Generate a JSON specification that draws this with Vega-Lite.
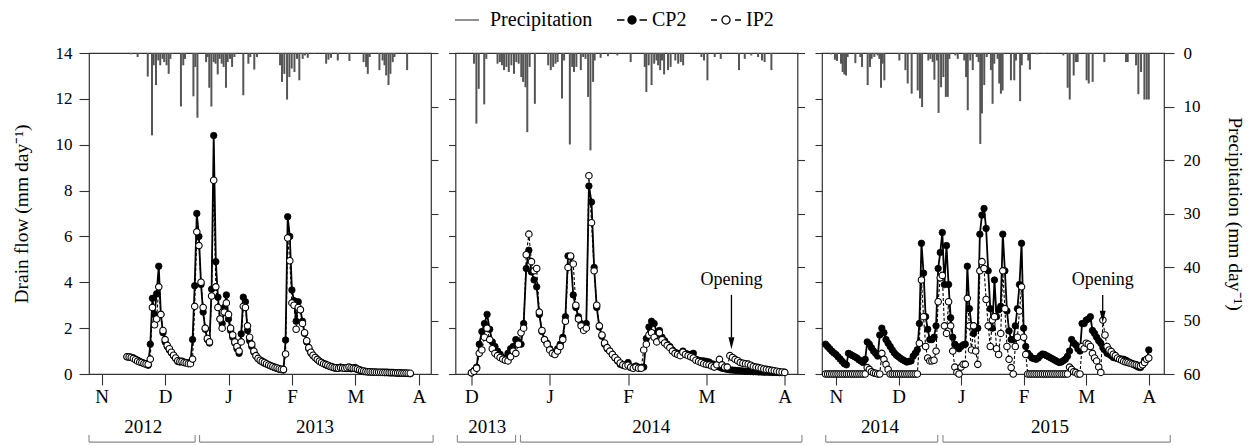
{
  "$schema": "https://vega.github.io/schema/vega-lite/v6.json",
  "padding": {"left": 10, "top": 4, "right": 0, "bottom": 0},
  "config": {
    "font": "Liberation Serif",
    "view": {"stroke": "#333", "strokeWidth": 1.2},
    "axis": {"labelColor": "black", "tickColor": "#333", "titleColor": "black", "titleFontWeight": "normal", "labelFont": "Liberation Serif", "titleFont": "Liberation Serif", "grid": false, "tickWidth": 1.1, "domain": false, "labelFlush": false, "labelOverlap": false}
  },
  "datasets": {
    "f1": [
      {"d":12,"c":0.75,"i":0.75},{"d":13,"c":0.74,"i":0.74},{"d":14,"c":0.73,"i":0.72},{"d":15,"c":0.70,"i":0.68},{"d":16,"c":0.65,"i":0.62},{"d":17,"c":0.60,"i":0.56},{"d":18,"c":0.55,"i":0.52},{"d":19,"c":0.50,"i":0.50},{"d":20,"c":0.47,"i":0.46},{"d":21,"c":0.42,"i":0.44},{"d":22,"c":0.38,"i":0.42},{"d":23,"c":1.3,"i":0.65},{"d":24,"c":3.3,"i":2.9},{"d":25,"c":2.6,"i":2.15},{"d":26,"c":3.5,"i":2.4},{"d":27,"c":4.7,"i":3.8},{"d":28,"c":2.6,"i":2.6},{"d":29,"c":1.8,"i":1.9},{"d":30,"c":1.4,"i":1.5},{"d":31,"c":1.2,"i":1.25},{"d":32,"c":1.05,"i":1.1},{"d":33,"c":0.92,"i":0.95},{"d":34,"c":0.8,"i":0.82},{"d":35,"c":0.68,"i":0.7},{"d":36,"c":0.55,"i":0.58},{"d":37,"c":0.52,"i":0.55},{"d":38,"c":0.55,"i":0.55},{"d":39,"c":0.52,"i":0.5},{"d":40,"c":0.5,"i":0.48},{"d":41,"c":0.47,"i":0.45},{"d":42,"c":0.5,"i":0.45},{"d":43,"c":1.5,"i":0.65},{"d":44,"c":3.85,"i":2.95},{"d":45,"c":7.0,"i":6.2},{"d":46,"c":6.0,"i":5.6},{"d":47,"c":3.9,"i":4.0},{"d":48,"c":2.7,"i":2.9},{"d":49,"c":1.95,"i":2.0},{"d":50,"c":1.5,"i":1.55},{"d":51,"c":1.35,"i":1.4},{"d":52,"c":3.7,"i":3.4},{"d":53,"c":10.4,"i":8.45},{"d":54,"c":4.9,"i":3.8},{"d":55,"c":3.35,"i":2.9},{"d":56,"c":2.4,"i":2.4},{"d":57,"c":2.2,"i":2.0},{"d":58,"c":2.9,"i":2.7},{"d":59,"c":3.45,"i":3.1},{"d":60,"c":2.4,"i":2.6},{"d":61,"c":1.9,"i":2.0},{"d":62,"c":1.6,"i":1.7},{"d":63,"c":1.35,"i":1.4},{"d":64,"c":1.1,"i":1.2},{"d":65,"c":0.9,"i":1.0},{"d":66,"c":1.75,"i":1.4},{"d":67,"c":3.35,"i":2.95},{"d":68,"c":3.15,"i":2.9},{"d":69,"c":1.9,"i":2.1},{"d":70,"c":1.45,"i":1.6},{"d":71,"c":1.2,"i":1.3},{"d":72,"c":0.95,"i":1.0},{"d":73,"c":0.78,"i":0.8},{"d":74,"c":0.66,"i":0.68},{"d":75,"c":0.58,"i":0.6},{"d":76,"c":0.52,"i":0.55},{"d":77,"c":0.47,"i":0.5},{"d":78,"c":0.43,"i":0.45},{"d":79,"c":0.39,"i":0.4},{"d":80,"c":0.35,"i":0.36},{"d":81,"c":0.31,"i":0.33},{"d":82,"c":0.27,"i":0.29},{"d":83,"c":0.24,"i":0.26},{"d":84,"c":0.21,"i":0.23},{"d":85,"c":0.19,"i":0.21},{"d":86,"c":0.17,"i":0.2},{"d":87,"c":1.48,"i":0.87},{"d":88,"c":6.86,"i":5.93},{"d":89,"c":6.0,"i":4.94},{"d":90,"c":3.66,"i":3.1},{"d":91,"c":3.2,"i":3.0},{"d":92,"c":2.3,"i":1.95},{"d":93,"c":3.15,"i":2.9},{"d":94,"c":2.8,"i":2.8},{"d":95,"c":2.3,"i":2.2},{"d":96,"c":1.77,"i":1.8},{"d":97,"c":1.4,"i":1.45},{"d":98,"c":1.1,"i":1.15},{"d":99,"c":0.92,"i":0.95},{"d":100,"c":0.8,"i":0.82},{"d":101,"c":0.72,"i":0.72},{"d":102,"c":0.63,"i":0.64},{"d":103,"c":0.55,"i":0.56},{"d":104,"c":0.5,"i":0.5},{"d":105,"c":0.45,"i":0.45},{"d":106,"c":0.4,"i":0.42},{"d":107,"c":0.36,"i":0.38},{"d":108,"c":0.33,"i":0.34},{"d":109,"c":0.29,"i":0.31},{"d":110,"c":0.26,"i":0.28},{"d":111,"c":0.25,"i":0.27},{"d":112,"c":0.27,"i":0.25},{"d":113,"c":0.3,"i":0.28},{"d":114,"c":0.27,"i":0.26},{"d":115,"c":0.25,"i":0.25},{"d":116,"c":0.24,"i":0.27},{"d":117,"c":0.25,"i":0.3},{"d":118,"c":0.23,"i":0.27},{"d":119,"c":0.26,"i":0.25},{"d":120,"c":0.28,"i":0.24},{"d":121,"c":0.2,"i":0.22},{"d":122,"c":0.16,"i":0.18},{"d":123,"c":0.12,"i":0.15},{"d":124,"c":0.1,"i":0.13},{"d":125,"c":0.1,"i":0.11},{"d":126,"c":0.09,"i":0.1},{"d":127,"c":0.09,"i":0.1},{"d":128,"c":0.08,"i":0.09},{"d":129,"c":0.08,"i":0.09},{"d":130,"c":0.08,"i":0.08},{"d":131,"c":0.07,"i":0.08},{"d":132,"c":0.07,"i":0.08},{"d":133,"c":0.07,"i":0.07},{"d":134,"c":0.06,"i":0.07},{"d":135,"c":0.06,"i":0.07},{"d":136,"c":0.06,"i":0.06},{"d":137,"c":0.05,"i":0.06},{"d":138,"c":0.05,"i":0.06},{"d":139,"c":0.05,"i":0.05},{"d":140,"c":0.04,"i":0.05},{"d":141,"c":0.04,"i":0.05},{"d":142,"c":0.04,"i":0.04},{"d":143,"c":0.03,"i":0.04},{"d":144,"c":0.03,"i":0.04},{"d":145,"c":0.02,"i":0.03},{"d":146,"c":0.01,"i":0.03}
    ],
    "f2": [
      {"d":0,"c":0.05,"i":0.05},{"d":1,"c":0.15,"i":0.12},{"d":2,"c":0.3,"i":0.25},{"d":3,"c":1.3,"i":0.9},{"d":4,"c":1.85,"i":1.05},{"d":5,"c":2.2,"i":1.6},{"d":6,"c":2.6,"i":2.0},{"d":7,"c":1.95,"i":1.5},{"d":8,"c":1.4,"i":1.1},{"d":9,"c":1.2,"i":0.9},{"d":10,"c":1.0,"i":0.8},{"d":11,"c":0.86,"i":0.72},{"d":12,"c":0.72,"i":0.65},{"d":13,"c":0.66,"i":0.6},{"d":14,"c":0.9,"i":0.57},{"d":15,"c":1.1,"i":0.75},{"d":16,"c":1.2,"i":1.0},{"d":17,"c":1.5,"i":0.9},{"d":18,"c":1.4,"i":1.3},{"d":19,"c":1.3,"i":1.8},{"d":20,"c":2.2,"i":2.0},{"d":21,"c":4.6,"i":5.2},{"d":22,"c":5.4,"i":6.1},{"d":23,"c":4.45,"i":4.9},{"d":24,"c":4.1,"i":4.5},{"d":25,"c":3.8,"i":4.6},{"d":26,"c":2.6,"i":2.7},{"d":27,"c":1.85,"i":1.9},{"d":28,"c":1.5,"i":1.5},{"d":29,"c":1.34,"i":1.3},{"d":30,"c":1.1,"i":1.05},{"d":31,"c":0.95,"i":0.9},{"d":32,"c":0.9,"i":0.85},{"d":33,"c":1.1,"i":1.0},{"d":34,"c":1.3,"i":1.2},{"d":35,"c":1.6,"i":1.5},{"d":36,"c":2.5,"i":2.3},{"d":37,"c":5.15,"i":4.65},{"d":38,"c":5.1,"i":5.15},{"d":39,"c":3.45,"i":4.8},{"d":40,"c":2.9,"i":3.0},{"d":41,"c":2.5,"i":2.4},{"d":42,"c":2.2,"i":2.1},{"d":43,"c":2.05,"i":1.9},{"d":44,"c":2.2,"i":2.0},{"d":45,"c":8.2,"i":8.65},{"d":46,"c":7.5,"i":6.6},{"d":47,"c":4.65,"i":4.5},{"d":48,"c":2.9,"i":3.0},{"d":49,"c":2.05,"i":2.1},{"d":50,"c":1.65,"i":1.7},{"d":51,"c":1.3,"i":1.35},{"d":52,"c":1.1,"i":1.15},{"d":53,"c":1.0,"i":1.0},{"d":54,"c":0.85,"i":0.85},{"d":55,"c":0.7,"i":0.72},{"d":56,"c":0.57,"i":0.6},{"d":57,"c":0.42,"i":0.48},{"d":58,"c":0.38,"i":0.4},{"d":59,"c":0.4,"i":0.35},{"d":60,"c":0.5,"i":0.38},{"d":61,"c":0.28,"i":0.3},{"d":62,"c":0.3,"i":0.25},{"d":63,"c":0.35,"i":0.3},{"d":64,"c":0.3,"i":0.25},{"d":65,"c":0.28,"i":0.25},{"d":66,"c":0.3,"i":1.05},{"d":67,"c":1.55,"i":1.3},{"d":68,"c":2.05,"i":1.7},{"d":69,"c":2.3,"i":1.8},{"d":70,"c":2.2,"i":1.6},{"d":71,"c":1.8,"i":1.4},{"d":72,"c":1.9,"i":1.8},{"d":73,"c":1.6,"i":1.5},{"d":74,"c":1.45,"i":1.35},{"d":75,"c":1.3,"i":1.25},{"d":76,"c":1.2,"i":1.15},{"d":77,"c":1.05,"i":1.0},{"d":78,"c":0.95,"i":0.9},{"d":79,"c":0.9,"i":0.85},{"d":80,"c":0.88,"i":0.8},{"d":81,"c":1.0,"i":0.95},{"d":82,"c":0.9,"i":0.85},{"d":83,"c":0.86,"i":0.8},{"d":84,"c":0.85,"i":0.75},{"d":85,"c":0.9,"i":0.7},{"d":86,"c":0.64,"i":0.6},{"d":87,"c":0.6,"i":0.55},{"d":88,"c":0.58,"i":0.5},{"d":89,"c":0.57,"i":0.45},{"d":90,"c":0.55,"i":0.42},{"d":91,"c":0.52,"i":0.4},{"d":92,"c":0.45,"i":0.35},{"d":93,"c":0.42,"i":0.3},{"d":94,"c":0.35,"i":0.4},{"d":95,"c":0.3,"i":0.64},{"d":96,"c":0.25,"i":0.4},{"d":97,"c":0.23,"i":0.3},{"d":98,"c":0.2,"i":0.3},{"d":99,"c":0.18,"i":0.8},{"d":100,"c":0.17,"i":0.72},{"d":101,"c":0.16,"i":0.64},{"d":102,"c":0.15,"i":0.58},{"d":103,"c":0.14,"i":0.5},{"d":104,"c":0.13,"i":0.47},{"d":105,"c":0.12,"i":0.45},{"d":106,"c":0.12,"i":0.43},{"d":107,"c":0.11,"i":0.38},{"d":108,"c":0.1,"i":0.33},{"d":109,"c":0.1,"i":0.3},{"d":110,"c":0.09,"i":0.28},{"d":111,"c":0.09,"i":0.25},{"d":112,"c":0.08,"i":0.22},{"d":113,"c":0.08,"i":0.2},{"d":114,"c":0.08,"i":0.18},{"d":115,"c":0.07,"i":0.16},{"d":116,"c":0.07,"i":0.14},{"d":117,"c":0.07,"i":0.12},{"d":118,"c":0.06,"i":0.1},{"d":119,"c":0.06,"i":0.09},{"d":120,"c":0.07,"i":0.07}
    ],
    "f3": [
      {"d":-5,"c":1.3,"i":0},{"d":-4,"c":1.2,"i":0},{"d":-3,"c":1.1,"i":0},{"d":-2,"c":1.0,"i":0},{"d":-1,"c":0.92,"i":0},{"d":0,"c":0.85,"i":0},{"d":1,"c":0.75,"i":0},{"d":2,"c":0.65,"i":0},{"d":3,"c":0.55,"i":0},{"d":4,"c":0.45,"i":0},{"d":5,"c":0.4,"i":0},{"d":6,"c":0.9,"i":0},{"d":7,"c":0.85,"i":0},{"d":8,"c":0.8,"i":0},{"d":9,"c":0.75,"i":0},{"d":10,"c":0.7,"i":0},{"d":11,"c":0.62,"i":0},{"d":12,"c":0.56,"i":0},{"d":13,"c":0.5,"i":0},{"d":14,"c":0.64,"i":0},{"d":15,"c":1.4,"i":0.28},{"d":16,"c":1.3,"i":0.2},{"d":17,"c":1.15,"i":0.1},{"d":18,"c":1.0,"i":0.05},{"d":19,"c":0.9,"i":0.03},{"d":20,"c":0.78,"i":0},{"d":21,"c":1.7,"i":0},{"d":22,"c":2.0,"i":0.9},{"d":23,"c":1.8,"i":0.64},{"d":24,"c":1.5,"i":0.42},{"d":25,"c":1.34,"i":0.2},{"d":26,"c":1.2,"i":0},{"d":27,"c":1.05,"i":0},{"d":28,"c":0.92,"i":0},{"d":29,"c":0.82,"i":0},{"d":30,"c":0.75,"i":0},{"d":31,"c":0.68,"i":0},{"d":32,"c":0.62,"i":0},{"d":33,"c":0.57,"i":0},{"d":34,"c":0.52,"i":0},{"d":35,"c":0.55,"i":0},{"d":36,"c":0.57,"i":0},{"d":37,"c":0.77,"i":0},{"d":38,"c":0.9,"i":0},{"d":39,"c":1.06,"i":0},{"d":40,"c":2.2,"i":1.34},{"d":41,"c":5.7,"i":4.1},{"d":42,"c":4.4,"i":2.5},{"d":43,"c":2.5,"i":1.2},{"d":44,"c":1.95,"i":0.7},{"d":45,"c":1.5,"i":0.57},{"d":46,"c":1.5,"i":0.57},{"d":47,"c":1.6,"i":0.6},{"d":48,"c":2.1,"i":1.0},{"d":49,"c":4.6,"i":3.15},{"d":50,"c":5.3,"i":4.2},{"d":51,"c":6.17,"i":4.3},{"d":52,"c":3.9,"i":2.1},{"d":53,"c":5.6,"i":1.77},{"d":54,"c":3.9,"i":3.15},{"d":55,"c":2.45,"i":2.1},{"d":56,"c":1.6,"i":1.0},{"d":57,"c":1.3,"i":0.3},{"d":58,"c":1.2,"i":0.07},{"d":59,"c":1.1,"i":0},{"d":60,"c":1.2,"i":0.3},{"d":61,"c":1.27,"i":0.42},{"d":62,"c":1.3,"i":0.42},{"d":63,"c":4.7,"i":3.3},{"d":64,"c":2.85,"i":2.1},{"d":65,"c":2.1,"i":1.05},{"d":66,"c":1.77,"i":2.1},{"d":67,"c":2.0,"i":1.0},{"d":68,"c":2.0,"i":0.42},{"d":69,"c":6.1,"i":4.5},{"d":70,"c":6.93,"i":4.9},{"d":71,"c":7.22,"i":4.6},{"d":72,"c":6.35,"i":3.25},{"d":73,"c":4.5,"i":2.1},{"d":74,"c":2.85,"i":1.2},{"d":75,"c":2.0,"i":2.35},{"d":76,"c":4.1,"i":2.5},{"d":77,"c":2.5,"i":1.1},{"d":78,"c":2.8,"i":0.85},{"d":79,"c":2.95,"i":1.77},{"d":80,"c":6.1,"i":4.5},{"d":81,"c":4.5,"i":2.85},{"d":82,"c":2.75,"i":1.2},{"d":83,"c":1.88,"i":0.64},{"d":84,"c":1.5,"i":0.28},{"d":85,"c":1.5,"i":0},{"d":86,"c":2.1,"i":1.2},{"d":87,"c":2.85,"i":1.6},{"d":88,"c":3.9,"i":2.75},{"d":89,"c":5.7,"i":3.8},{"d":90,"c":2.0,"i":1.6},{"d":91,"c":1.2,"i":0.85},{"d":92,"c":0.9,"i":0},{"d":93,"c":0.8,"i":0},{"d":94,"c":0.7,"i":0},{"d":95,"c":0.67,"i":0},{"d":96,"c":0.64,"i":0},{"d":97,"c":0.7,"i":0},{"d":98,"c":0.8,"i":0},{"d":99,"c":0.87,"i":0},{"d":100,"c":0.85,"i":0},{"d":101,"c":0.8,"i":0},{"d":102,"c":0.75,"i":0},{"d":103,"c":0.7,"i":0},{"d":104,"c":0.65,"i":0},{"d":105,"c":0.6,"i":0},{"d":106,"c":0.55,"i":0},{"d":107,"c":0.5,"i":0},{"d":108,"c":0.52,"i":0},{"d":109,"c":0.58,"i":0},{"d":110,"c":0.64,"i":0},{"d":111,"c":0.77,"i":0},{"d":112,"c":1.0,"i":0.3},{"d":113,"c":1.5,"i":0.2},{"d":114,"c":1.35,"i":0.1},{"d":115,"c":1.27,"i":0.07},{"d":116,"c":1.1,"i":0},{"d":117,"c":1.0,"i":0},{"d":118,"c":2.2,"i":1.2},{"d":119,"c":2.2,"i":1.1},{"d":120,"c":2.35,"i":1.34},{"d":121,"c":2.4,"i":1.3},{"d":122,"c":2.5,"i":1.2},{"d":123,"c":1.9,"i":0.9},{"d":124,"c":1.77,"i":0.7},{"d":125,"c":1.6,"i":0.57},{"d":126,"c":1.45,"i":0.3},{"d":127,"c":1.34,"i":0.07},{"d":128,"c":1.15,"i":2.35},{"d":129,"c":1.05,"i":1.7},{"d":130,"c":0.9,"i":1.2},{"d":131,"c":0.86,"i":1.05},{"d":132,"c":0.8,"i":0.98},{"d":133,"c":0.72,"i":0.86},{"d":134,"c":0.7,"i":0.8},{"d":135,"c":0.68,"i":0.7},{"d":136,"c":0.66,"i":0.64},{"d":137,"c":0.65,"i":0.6},{"d":138,"c":0.64,"i":0.55},{"d":139,"c":0.6,"i":0.52},{"d":140,"c":0.55,"i":0.5},{"d":141,"c":0.5,"i":0.47},{"d":142,"c":0.45,"i":0.44},{"d":143,"c":0.4,"i":0.42},{"d":144,"c":0.35,"i":0.4},{"d":145,"c":0.3,"i":0.37},{"d":146,"c":0.28,"i":0.35},{"d":147,"c":0.4,"i":0.4},{"d":148,"c":0.6,"i":0.5},{"d":149,"c":0.64,"i":0.64},{"d":150,"c":1.05,"i":0.7}
    ],
    "r1": [
      {"d":13.9,"p":0.25},{"d":17.0,"p":0.75},{"d":21.8,"p":4.4},{"d":23.8,"p":15.4},{"d":24.6,"p":2.3},{"d":25.7,"p":6.0},{"d":26.8,"p":1.4},{"d":27.7,"p":2.3},{"d":28.8,"p":1.1},{"d":29.6,"p":1.7},{"d":30.7,"p":2.3},{"d":31.7,"p":3.9},{"d":32.5,"p":1.1},{"d":37.5,"p":10.0},{"d":38.6,"p":2.3},{"d":39.4,"p":1.1},{"d":43.4,"p":8.1},{"d":44.3,"p":2.6},{"d":45.3,"p":12.1},{"d":49.4,"p":1.7},{"d":50.1,"p":0.75},{"d":50.9,"p":6.5},{"d":51.9,"p":10.0},{"d":53.0,"p":1.7},{"d":53.9,"p":2.0},{"d":54.9,"p":4.0},{"d":55.8,"p":1.1},{"d":56.8,"p":2.0},{"d":57.7,"p":2.6},{"d":58.8,"p":6.5},{"d":59.6,"p":1.7},{"d":60.7,"p":1.1},{"d":61.7,"p":2.6},{"d":62.8,"p":0.75},{"d":67.0,"p":7.9},{"d":69.4,"p":2.0},{"d":70.3,"p":0.75},{"d":72.2,"p":3.1},{"d":73.5,"p":0.75},{"d":84.4,"p":2.3},{"d":85.3,"p":5.4},{"d":86.4,"p":3.9},{"d":87.7,"p":8.7},{"d":88.8,"p":4.5},{"d":89.9,"p":2.9},{"d":91.2,"p":3.55},{"d":92.4,"p":1.1},{"d":93.5,"p":5.1},{"d":95.1,"p":1.1},{"d":96.2,"p":0.45},{"d":97.5,"p":0.9},{"d":100.6,"p":0.2},{"d":106.2,"p":2.0},{"d":107.3,"p":1.25},{"d":108.5,"p":0.9},{"d":111.7,"p":1.4},{"d":117.2,"p":1.5},{"d":123.9,"p":1.7},{"d":125.1,"p":2.6},{"d":125.9,"p":3.9},{"d":126.8,"p":0.75},{"d":131.4,"p":3.2},{"d":132.9,"p":1.4},{"d":133.8,"p":2.3},{"d":134.6,"p":4.2},{"d":135.7,"p":6.0},{"d":136.6,"p":3.9},{"d":137.7,"p":1.7},{"d":138.5,"p":0.75},{"d":144.5,"p":3.2}
    ],
    "r2": [
      {"d":1.0,"p":2.0},{"d":1.9,"p":13.2},{"d":2.8,"p":6.7},{"d":4.9,"p":9.6},{"d":5.7,"p":1.1},{"d":10.0,"p":2.0},{"d":10.9,"p":1.7},{"d":11.7,"p":2.3},{"d":12.5,"p":3.2},{"d":13.4,"p":2.6},{"d":14.3,"p":3.55},{"d":15.3,"p":2.3},{"d":16.3,"p":3.9},{"d":17.2,"p":1.7},{"d":18.1,"p":2.0},{"d":19.1,"p":4.5},{"d":19.8,"p":5.4},{"d":20.7,"p":6.4},{"d":21.4,"p":14.8},{"d":22.3,"p":2.6},{"d":24.3,"p":9.5},{"d":29.4,"p":2.3},{"d":30.4,"p":3.2},{"d":31.3,"p":2.6},{"d":32.2,"p":2.0},{"d":33.0,"p":1.7},{"d":34.7,"p":8.5},{"d":35.5,"p":1.4},{"d":37.7,"p":17.1},{"d":38.6,"p":2.6},{"d":39.3,"p":3.55},{"d":40.2,"p":2.6},{"d":41.9,"p":3.2},{"d":42.8,"p":0.75},{"d":43.7,"p":1.1},{"d":44.7,"p":8.2},{"d":45.6,"p":18.2},{"d":46.6,"p":5.4},{"d":47.2,"p":1.4},{"d":49.5,"p":0.9},{"d":52.3,"p":0.6},{"d":55.9,"p":0.45},{"d":61.0,"p":1.7},{"d":66.4,"p":2.6},{"d":67.0,"p":7.3},{"d":67.9,"p":2.3},{"d":69.0,"p":6.0},{"d":70.0,"p":2.0},{"d":70.9,"p":1.4},{"d":71.5,"p":2.3},{"d":72.3,"p":3.2},{"d":73.0,"p":1.4},{"d":73.8,"p":4.0},{"d":75.3,"p":3.2},{"d":76.3,"p":2.6},{"d":78.1,"p":1.4},{"d":79.2,"p":2.0},{"d":80.2,"p":1.7},{"d":81.1,"p":2.3},{"d":88.1,"p":0.75},{"d":89.1,"p":1.4},{"d":90.4,"p":5.1},{"d":93.2,"p":0.75},{"d":95.5,"p":1.1},{"d":102.5,"p":3.2},{"d":104.7,"p":1.1},{"d":107.2,"p":0.45},{"d":109.8,"p":0.75},{"d":111.3,"p":1.4},{"d":112.3,"p":1.7},{"d":114.9,"p":3.2}
    ],
    "r3": [
      {"d":-2.4,"p":0.25},{"d":-0.5,"p":1.25},{"d":0.5,"p":1.5},{"d":2.4,"p":2.0},{"d":3.2,"p":3.55},{"d":4.0,"p":4.0},{"d":4.8,"p":4.2},{"d":5.6,"p":0.75},{"d":9.3,"p":1.9},{"d":11.7,"p":0.75},{"d":12.5,"p":2.6},{"d":15.2,"p":6.0},{"d":16.3,"p":2.6},{"d":17.1,"p":1.1},{"d":18.4,"p":0.75},{"d":20.0,"p":0.45},{"d":20.8,"p":1.1},{"d":21.6,"p":6.5},{"d":22.4,"p":2.0},{"d":23.2,"p":5.1},{"d":30.4,"p":1.4},{"d":33.3,"p":3.2},{"d":34.4,"p":5.7},{"d":35.5,"p":0.15},{"d":36.3,"p":7.6},{"d":39.2,"p":7.0},{"d":40.3,"p":8.5},{"d":41.3,"p":10.1},{"d":44.3,"p":1.4},{"d":45.3,"p":1.1},{"d":46.4,"p":1.7},{"d":47.2,"p":5.0},{"d":48.4,"p":1.4},{"d":49.2,"p":11.2},{"d":50.4,"p":6.4},{"d":51.5,"p":4.5},{"d":52.7,"p":8.2},{"d":53.6,"p":8.2},{"d":54.4,"p":1.1},{"d":57.2,"p":0.45},{"d":58.4,"p":1.1},{"d":61.5,"p":1.4},{"d":62.4,"p":4.5},{"d":63.2,"p":10.7},{"d":64.4,"p":1.4},{"d":65.6,"p":3.2},{"d":67.5,"p":0.75},{"d":68.4,"p":1.7},{"d":69.2,"p":17.0},{"d":70.0,"p":11.3},{"d":71.1,"p":6.0},{"d":72.3,"p":0.75},{"d":74.3,"p":3.2},{"d":75.1,"p":9.5},{"d":75.9,"p":2.0},{"d":77.5,"p":1.1},{"d":78.3,"p":5.7},{"d":79.1,"p":7.6},{"d":79.9,"p":7.0},{"d":83.9,"p":5.1},{"d":85.5,"p":5.1},{"d":86.3,"p":1.4},{"d":88.3,"p":9.0},{"d":89.1,"p":2.3},{"d":92.2,"p":1.4},{"d":93.0,"p":3.1},{"d":96.4,"p":0.25},{"d":99.9,"p":0.15},{"d":109.0,"p":0.45},{"d":111.1,"p":6.5},{"d":112.1,"p":8.7},{"d":114.0,"p":4.2},{"d":115.1,"p":1.7},{"d":115.9,"p":1.7},{"d":120.2,"p":5.1},{"d":121.2,"p":5.7},{"d":123.1,"p":5.4},{"d":128.7,"p":1.7},{"d":139.1,"p":1.7},{"d":139.9,"p":1.7},{"d":143.9,"p":2.3},{"d":145.0,"p":7.7},{"d":146.3,"p":3.55},{"d":147.9,"p":8.7},{"d":149.0,"p":8.7},{"d":150.0,"p":8.7}
    ],
    "y1": [{"a": -6.0, "b": 44.2, "m": 19.7, "yr": "2012"}, {"a": 46.3, "b": 156.8, "m": 100.9, "yr": "2013"}],
    "y2": [{"a": -5.4, "b": 16.9, "m": 6.1, "yr": "2013"}, {"a": 18.8, "b": 126.6, "m": 68.9, "yr": "2014"}],
    "y3": [{"a": -4.9, "b": 48.8, "m": 21.1, "yr": "2014"}, {"a": 51.3, "b": 160.3, "m": 102.6, "yr": "2015"}],
    "o2": [{"d": 99.6, "t": 4.1, "a": 3.45, "b": 1.6, "h": 1.34}],
    "o3": [{"d": 127.9, "t": 4.1, "a": 3.45, "b": 2.75, "h": 2.5}],
    "series": [{"s": "Precipitation"}, {"s": "CP2"}, {"s": "IP2"}]
  },
  "spacing": 24.5,
  "bounds": "flush",
  "hconcat": [
    {
      "width": 342, "height": 321,
      "encoding": {"x": {"field": "d", "type": "quantitative", "scale": {"domain": [-6, 155.8], "nice": false, "zero": false}, "axis": {"values": [0, 30, 60, 90, 120, 150], "labelExpr": "['N','D','J','F','M','A'][round(datum.value / 30)]", "title": null, "tickSize": 11, "labelPadding": 2, "labelFontSize": 19}}},
      "layer": [
        {"data": {"name": "r1"}, "mark": {"type": "rule", "color": "#555", "strokeWidth": 2},
         "encoding": {"y": {"field": "p", "type": "quantitative", "scale": {"domain": [0, 60], "reverse": true, "nice": false}, "axis": {"orient": "right", "values": [0, 10, 20, 30, 40, 50, 60], "labels": false, "title": null, "tickSize": 7}}, "y2": {"datum": 0}}},
        {"data": {"name": "f1"}, "mark": {"type": "line", "color": "black", "strokeWidth": 1.8},
         "encoding": {"y": {"field": "c", "type": "quantitative", "scale": {"domain": [0, 14], "nice": false, "zero": false}, "axis": {"orient": "left", "values": [0, 2, 4, 6, 8, 10, 12, 14], "title": "Drain flow (mm day⁻¹)", "tickSize": 10, "labelPadding": 7, "labelFontSize": 17, "titleFontSize": 19.5, "titlePadding": 24}}}},
        {"data": {"name": "f1"}, "mark": {"type": "line", "color": "black", "strokeWidth": 1.1, "strokeDash": [3, 2]},
         "encoding": {"y": {"field": "i", "type": "quantitative", "scale": {"domain": [0, 14], "nice": false, "zero": false}, "axis": null}}},
        {"data": {"name": "f1"}, "mark": {"type": "point", "filled": true, "fill": "black", "stroke": "black", "strokeWidth": 0.8, "size": 42, "opacity": 1},
         "encoding": {"y": {"field": "c", "type": "quantitative", "scale": {"domain": [0, 14], "nice": false, "zero": false}, "axis": null}}},
        {"data": {"name": "f1"}, "mark": {"type": "point", "filled": true, "fill": "white", "stroke": "black", "strokeWidth": 1.1, "size": 42, "opacity": 1},
         "encoding": {"y": {"field": "i", "type": "quantitative", "scale": {"domain": [0, 14], "nice": false, "zero": false}, "axis": null}}},
        {"data": {"name": "y1"}, "mark": {"type": "rule", "color": "#888", "strokeWidth": 1.1},
         "encoding": {"x": {"field": "a", "type": "quantitative", "scale": {"domain": [-6, 155.8], "nice": false, "zero": false}}, "x2": {"field": "b"}, "y": {"datum": -2.97, "type": "quantitative", "scale": {"domain": [0, 14], "nice": false, "zero": false}, "axis": null}}},
        {"data": {"name": "y1"}, "transform": [{"fold": ["a", "b"], "as": ["k", "e"]}], "mark": {"type": "rule", "color": "#888", "strokeWidth": 1.1},
         "encoding": {"x": {"field": "e", "type": "quantitative", "scale": {"domain": [-6, 155.8], "nice": false, "zero": false}}, "y": {"datum": -2.97, "type": "quantitative", "scale": {"domain": [0, 14], "nice": false, "zero": false}, "axis": null}, "y2": {"datum": -2.66}}},
        {"data": {"name": "y1"}, "mark": {"type": "text", "fontSize": 19, "baseline": "middle", "color": "black"},
         "encoding": {"x": {"field": "m", "type": "quantitative", "scale": {"domain": [-6, 155.8], "nice": false, "zero": false}}, "text": {"field": "yr"}, "y": {"datum": -2.31, "type": "quantitative", "scale": {"domain": [0, 14], "nice": false, "zero": false}, "axis": null}}},
        {"data": {"name": "series"}, "mark": {"type": "point", "opacity": 0},
         "encoding": {
           "shape": {"field": "s", "type": "nominal", "scale": {"domain": ["Precipitation", "CP2", "IP2"], "range": ["M-1,0H0.6", "M-1,0H-0.5M0.5,0H1M0.27,0A0.27,0.27 0 1 1 -0.27,0A0.27,0.27 0 1 1 0.27,0Z", "M-1,0H-0.6M0.6,0H1M0.27,0A0.27,0.27 0 1 1 -0.27,0A0.27,0.27 0 1 1 0.27,0Z"]}, "legend": {"title": null, "orient": "none", "legendX": 365, "legendY": -49, "direction": "horizontal", "symbolSize": 900, "symbolStrokeWidth": 1.3, "symbolOpacity": 1, "labelFontSize": 20, "labelFont": "Liberation Serif", "labelColor": "black", "labelOffset": 4, "columnPadding": 21, "labelExpr": "datum.label === 'IP2' ? '\u00a0\u00a0\u00a0\u00a0IP2' : datum.label"}},
           "fill": {"field": "s", "type": "nominal", "scale": {"domain": ["Precipitation", "CP2", "IP2"], "range": ["#555555", "black", "white"]}, "legend": {"title": null, "orient": "none", "legendX": 365, "legendY": -49, "direction": "horizontal", "symbolSize": 900, "symbolStrokeWidth": 1.3, "symbolOpacity": 1, "labelFontSize": 20, "labelFont": "Liberation Serif", "labelColor": "black", "labelOffset": 4, "columnPadding": 21, "labelExpr": "datum.label === 'IP2' ? '\u00a0\u00a0\u00a0\u00a0IP2' : datum.label"}},
           "stroke": {"field": "s", "type": "nominal", "scale": {"domain": ["Precipitation", "CP2", "IP2"], "range": ["#555555", "black", "black"]}, "legend": {"title": null, "orient": "none", "legendX": 365, "legendY": -49, "direction": "horizontal", "symbolSize": 900, "symbolStrokeWidth": 1.3, "symbolOpacity": 1, "labelFontSize": 20, "labelFont": "Liberation Serif", "labelColor": "black", "labelOffset": 4, "columnPadding": 21, "labelExpr": "datum.label === 'IP2' ? '\u00a0\u00a0\u00a0\u00a0IP2' : datum.label"}}
         }}
      ],
      "resolve": {"scale": {"y": "independent"}}
    },
    {
      "width": 342, "height": 321,
      "encoding": {"x": {"field": "d", "type": "quantitative", "scale": {"domain": [-6.1, 124.9], "nice": false, "zero": false}, "axis": {"values": [0, 30, 60, 90, 120], "labelExpr": "['D','J','F','M','A'][round(datum.value / 30)]", "title": null, "tickSize": 11, "labelPadding": 2, "labelFontSize": 19}}},
      "layer": [
        {"data": {"name": "r2"}, "mark": {"type": "rule", "color": "#555", "strokeWidth": 2},
         "encoding": {"y": {"field": "p", "type": "quantitative", "scale": {"domain": [0, 60], "reverse": true, "nice": false}, "axis": {"orient": "right", "values": [0, 10, 20, 30, 40, 50, 60], "labels": false, "title": null, "tickSize": 7}}, "y2": {"datum": 0}}},
        {"data": {"name": "f2"}, "mark": {"type": "line", "color": "black", "strokeWidth": 1.8},
         "encoding": {"y": {"field": "c", "type": "quantitative", "scale": {"domain": [0, 14], "nice": false, "zero": false}, "axis": {"orient": "left", "values": [0, 2, 4, 6, 8, 10, 12, 14], "labels": false, "title": null, "tickSize": 7}}}},
        {"data": {"name": "f2"}, "mark": {"type": "line", "color": "black", "strokeWidth": 1.1, "strokeDash": [3, 2]},
         "encoding": {"y": {"field": "i", "type": "quantitative", "scale": {"domain": [0, 14], "nice": false, "zero": false}, "axis": null}}},
        {"data": {"name": "f2"}, "mark": {"type": "point", "filled": true, "fill": "black", "stroke": "black", "strokeWidth": 0.8, "size": 42, "opacity": 1},
         "encoding": {"y": {"field": "c", "type": "quantitative", "scale": {"domain": [0, 14], "nice": false, "zero": false}, "axis": null}}},
        {"data": {"name": "f2"}, "mark": {"type": "point", "filled": true, "fill": "white", "stroke": "black", "strokeWidth": 1.1, "size": 42, "opacity": 1},
         "encoding": {"y": {"field": "i", "type": "quantitative", "scale": {"domain": [0, 14], "nice": false, "zero": false}, "axis": null}}},
        {"data": {"name": "o2"}, "mark": {"type": "text", "text": "Opening", "fontSize": 18, "baseline": "middle", "color": "black"},
         "encoding": {"y": {"field": "t", "type": "quantitative", "scale": {"domain": [0, 14], "nice": false, "zero": false}, "axis": null}}},
        {"data": {"name": "o2"}, "mark": {"type": "rule", "color": "black", "strokeWidth": 1.3},
         "encoding": {"y": {"field": "a", "type": "quantitative", "scale": {"domain": [0, 14], "nice": false, "zero": false}, "axis": null}, "y2": {"field": "b"}}},
        {"data": {"name": "o2"}, "mark": {"type": "point", "shape": "M-0.5,-1H0.5L0,1Z", "filled": true, "fill": "black", "size": 144, "opacity": 1},
         "encoding": {"y": {"field": "h", "type": "quantitative", "scale": {"domain": [0, 14], "nice": false, "zero": false}, "axis": null}}},
        {"data": {"name": "y2"}, "mark": {"type": "rule", "color": "#888", "strokeWidth": 1.1},
         "encoding": {"x": {"field": "a", "type": "quantitative", "scale": {"domain": [-6.1, 124.9], "nice": false, "zero": false}}, "x2": {"field": "b"}, "y": {"datum": -2.97, "type": "quantitative", "scale": {"domain": [0, 14], "nice": false, "zero": false}, "axis": null}}},
        {"data": {"name": "y2"}, "transform": [{"fold": ["a", "b"], "as": ["k", "e"]}], "mark": {"type": "rule", "color": "#888", "strokeWidth": 1.1},
         "encoding": {"x": {"field": "e", "type": "quantitative", "scale": {"domain": [-6.1, 124.9], "nice": false, "zero": false}}, "y": {"datum": -2.97, "type": "quantitative", "scale": {"domain": [0, 14], "nice": false, "zero": false}, "axis": null}, "y2": {"datum": -2.66}}},
        {"data": {"name": "y2"}, "mark": {"type": "text", "fontSize": 19, "baseline": "middle", "color": "black"},
         "encoding": {"x": {"field": "m", "type": "quantitative", "scale": {"domain": [-6.1, 124.9], "nice": false, "zero": false}}, "text": {"field": "yr"}, "y": {"datum": -2.31, "type": "quantitative", "scale": {"domain": [0, 14], "nice": false, "zero": false}, "axis": null}}}
      ],
      "resolve": {"scale": {"y": "independent"}}
    },
    {
      "width": 342, "height": 321,
      "encoding": {"x": {"field": "d", "type": "quantitative", "scale": {"domain": [-6.7, 157.3], "nice": false, "zero": false}, "axis": {"values": [0, 30, 60, 90, 120, 150], "labelExpr": "['N','D','J','F','M','A'][round(datum.value / 30)]", "title": null, "tickSize": 11, "labelPadding": 2, "labelFontSize": 19}}},
      "layer": [
        {"data": {"name": "r3"}, "mark": {"type": "rule", "color": "#555", "strokeWidth": 2},
         "encoding": {"y": {"field": "p", "type": "quantitative", "scale": {"domain": [0, 60], "reverse": true, "nice": false}, "axis": {"orient": "right", "values": [0, 10, 20, 30, 40, 50, 60], "title": "Precipitation (mm day⁻¹)", "tickSize": 10, "labelPadding": 9, "labelFontSize": 17, "titleFontSize": 19.5, "titlePadding": 24}}, "y2": {"datum": 0}}},
        {"data": {"name": "f3"}, "mark": {"type": "line", "color": "black", "strokeWidth": 1.8},
         "encoding": {"y": {"field": "c", "type": "quantitative", "scale": {"domain": [0, 14], "nice": false, "zero": false}, "axis": {"orient": "left", "values": [0, 2, 4, 6, 8, 10, 12, 14], "labels": false, "title": null, "tickSize": 7}}}},
        {"data": {"name": "f3"}, "mark": {"type": "line", "color": "black", "strokeWidth": 1.1, "strokeDash": [3, 2]},
         "encoding": {"y": {"field": "i", "type": "quantitative", "scale": {"domain": [0, 14], "nice": false, "zero": false}, "axis": null}}},
        {"data": {"name": "f3"}, "mark": {"type": "point", "filled": true, "fill": "black", "stroke": "black", "strokeWidth": 0.8, "size": 42, "opacity": 1},
         "encoding": {"y": {"field": "c", "type": "quantitative", "scale": {"domain": [0, 14], "nice": false, "zero": false}, "axis": null}}},
        {"data": {"name": "f3"}, "mark": {"type": "point", "filled": true, "fill": "white", "stroke": "black", "strokeWidth": 1.1, "size": 42, "opacity": 1},
         "encoding": {"y": {"field": "i", "type": "quantitative", "scale": {"domain": [0, 14], "nice": false, "zero": false}, "axis": null}}},
        {"data": {"name": "o3"}, "mark": {"type": "text", "text": "Opening", "fontSize": 18, "baseline": "middle", "color": "black"},
         "encoding": {"y": {"field": "t", "type": "quantitative", "scale": {"domain": [0, 14], "nice": false, "zero": false}, "axis": null}}},
        {"data": {"name": "o3"}, "mark": {"type": "rule", "color": "black", "strokeWidth": 1.3},
         "encoding": {"y": {"field": "a", "type": "quantitative", "scale": {"domain": [0, 14], "nice": false, "zero": false}, "axis": null}, "y2": {"field": "b"}}},
        {"data": {"name": "o3"}, "mark": {"type": "point", "shape": "M-0.5,-1H0.5L0,1Z", "filled": true, "fill": "black", "size": 144, "opacity": 1},
         "encoding": {"y": {"field": "h", "type": "quantitative", "scale": {"domain": [0, 14], "nice": false, "zero": false}, "axis": null}}},
        {"data": {"name": "y3"}, "mark": {"type": "rule", "color": "#888", "strokeWidth": 1.1},
         "encoding": {"x": {"field": "a", "type": "quantitative", "scale": {"domain": [-6.7, 157.3], "nice": false, "zero": false}}, "x2": {"field": "b"}, "y": {"datum": -2.97, "type": "quantitative", "scale": {"domain": [0, 14], "nice": false, "zero": false}, "axis": null}}},
        {"data": {"name": "y3"}, "transform": [{"fold": ["a", "b"], "as": ["k", "e"]}], "mark": {"type": "rule", "color": "#888", "strokeWidth": 1.1},
         "encoding": {"x": {"field": "e", "type": "quantitative", "scale": {"domain": [-6.7, 157.3], "nice": false, "zero": false}}, "y": {"datum": -2.97, "type": "quantitative", "scale": {"domain": [0, 14], "nice": false, "zero": false}, "axis": null}, "y2": {"datum": -2.66}}},
        {"data": {"name": "y3"}, "mark": {"type": "text", "fontSize": 19, "baseline": "middle", "color": "black"},
         "encoding": {"x": {"field": "m", "type": "quantitative", "scale": {"domain": [-6.7, 157.3], "nice": false, "zero": false}}, "text": {"field": "yr"}, "y": {"datum": -2.31, "type": "quantitative", "scale": {"domain": [0, 14], "nice": false, "zero": false}, "axis": null}}}
      ],
      "resolve": {"scale": {"y": "independent"}}
    }
  ]
}
